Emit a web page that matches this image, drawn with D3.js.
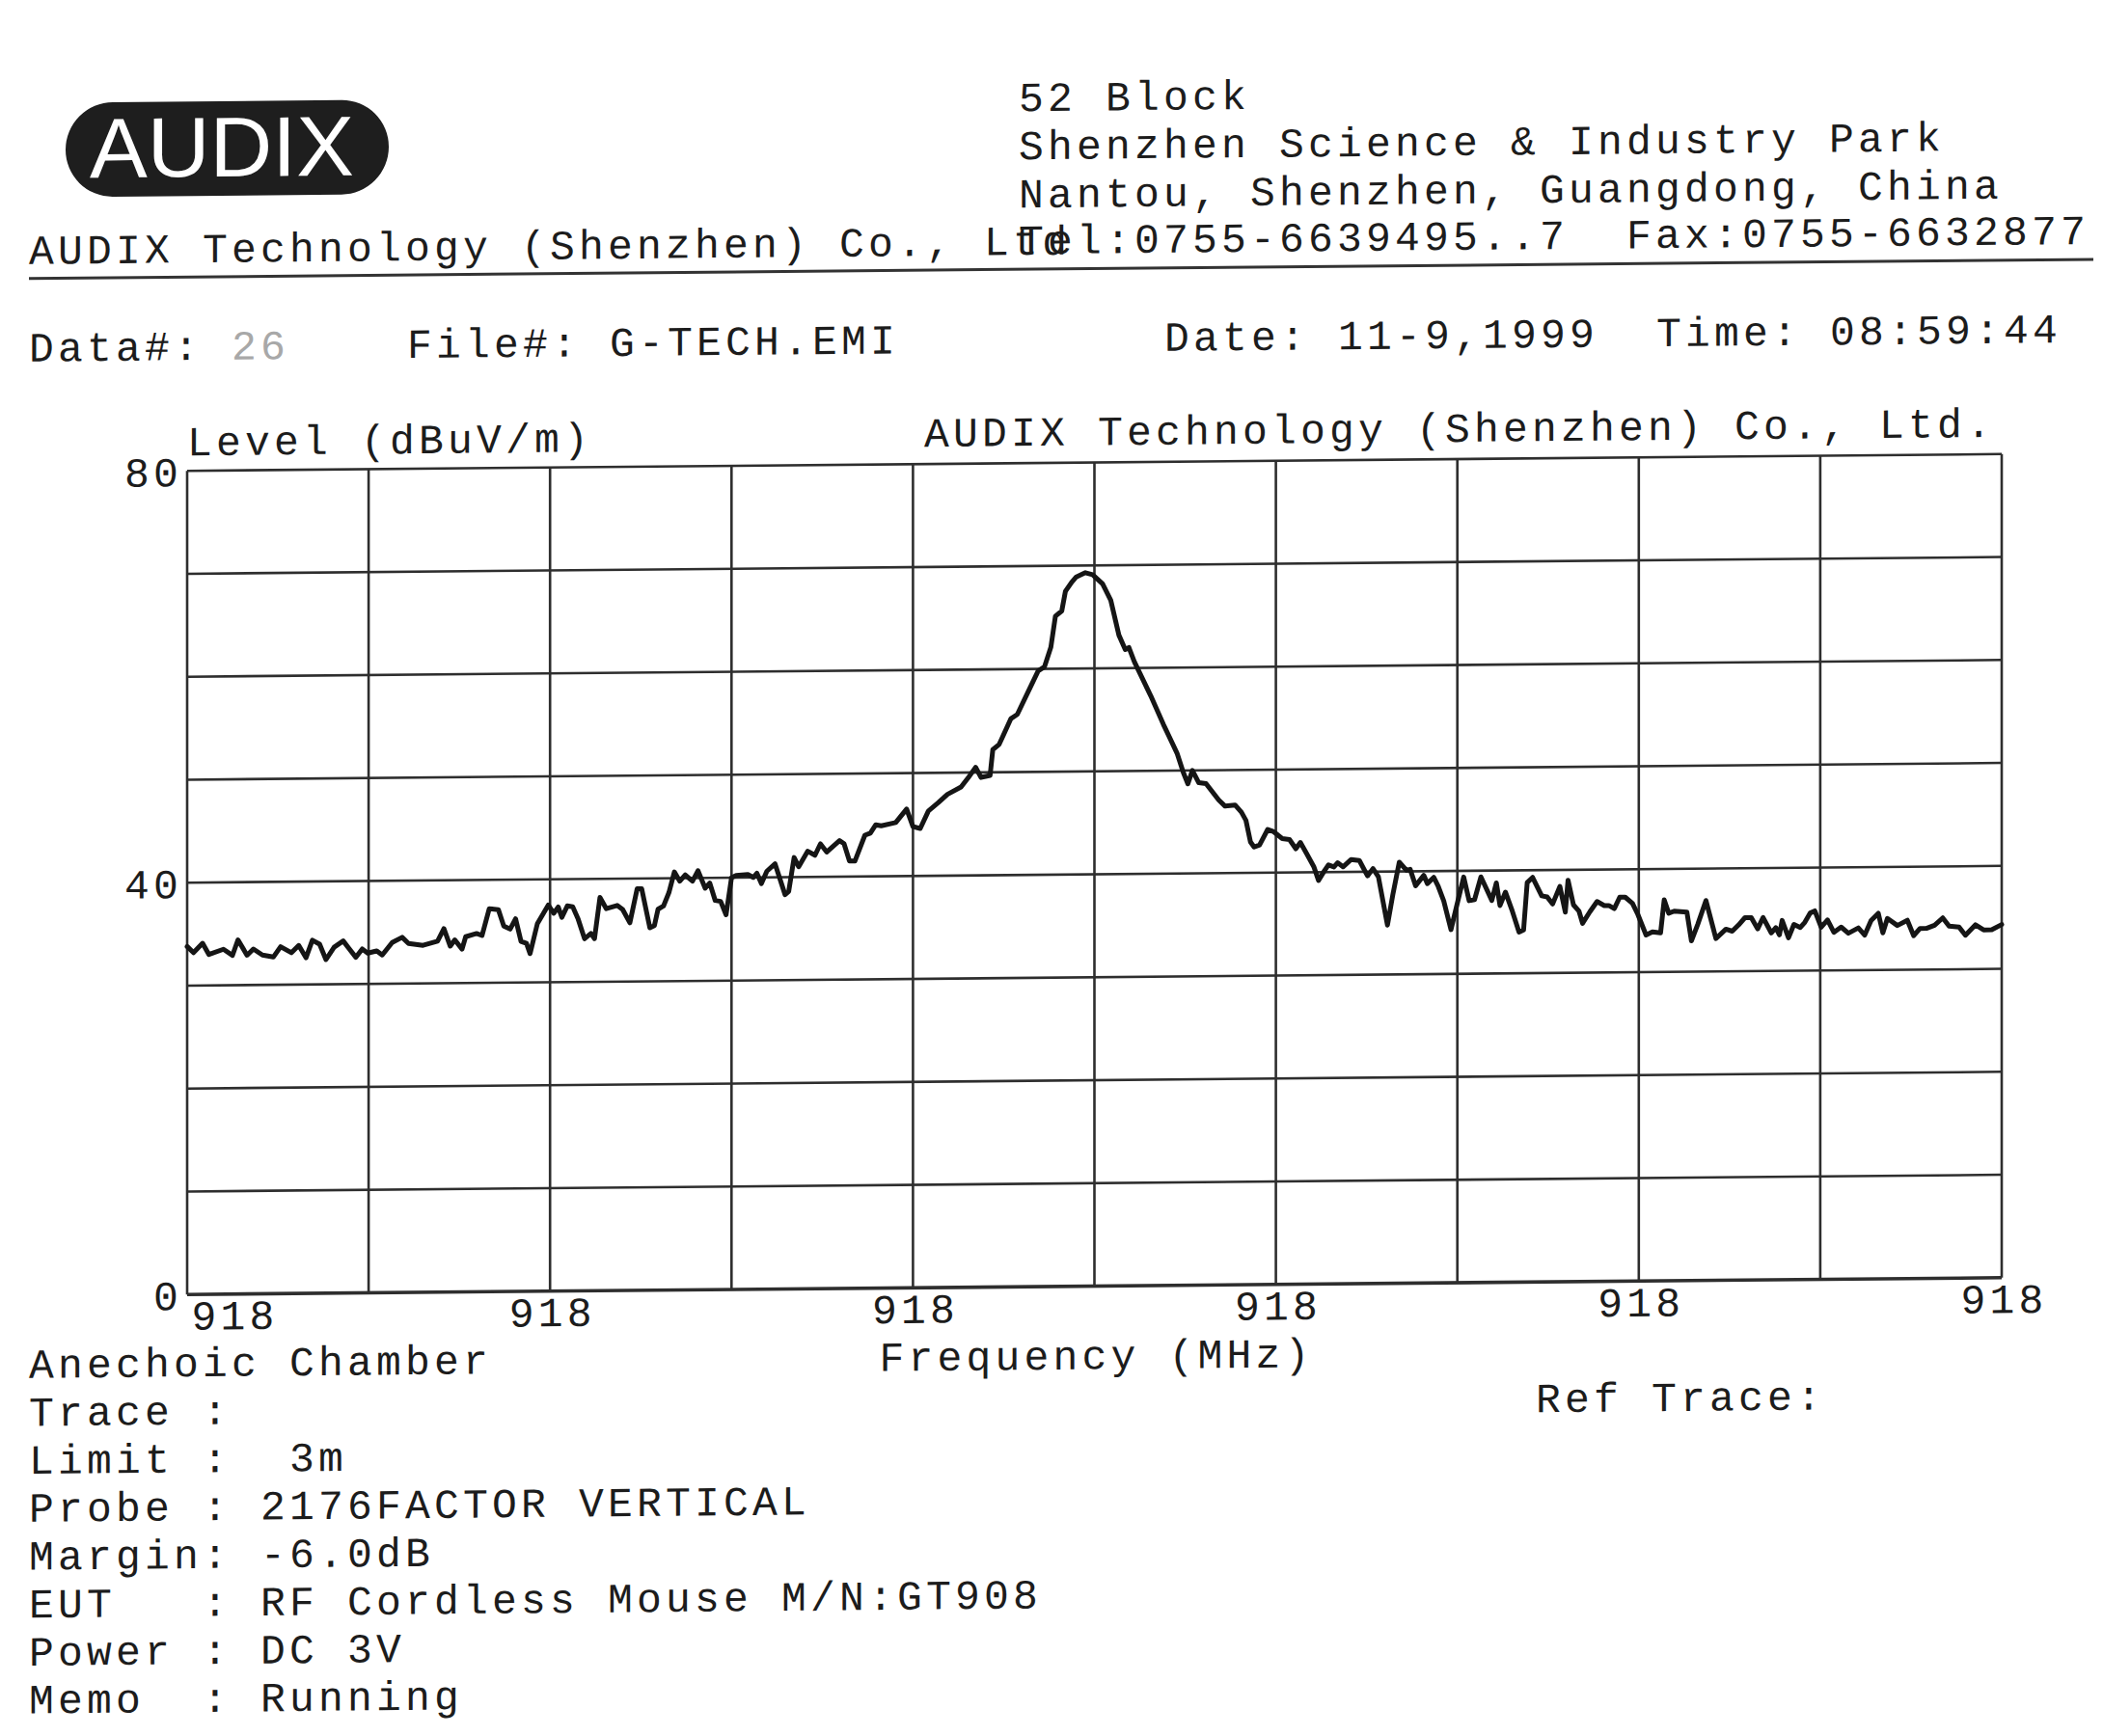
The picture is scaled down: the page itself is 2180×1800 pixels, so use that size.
<!DOCTYPE html>
<html><head><meta charset="utf-8">
<script src="https://cdn.jsdelivr.net/npm/d3@7"></script>
<style>
html,body{margin:0;padding:0;background:#fff;}
text{white-space:pre;}
</style></head>
<body>
<script>
// ---------- data ----------
const freqMHz = [
917.9000,917.9007,917.9017,917.9024,917.9040,917.9050,917.9056,917.9066,917.9073,917.9083,
917.9095,917.9103,917.9115,917.9123,917.9131,917.9138,917.9146,917.9153,917.9162,917.9172,
917.9178,917.9186,917.9193,917.9199,917.9209,917.9215,917.9226,917.9237,917.9244,917.9260,
917.9276,917.9283,917.9290,917.9295,917.9303,917.9307,917.9319,917.9325,917.9333,917.9343,
917.9349,917.9356,917.9362,917.9368,917.9374,917.9378,917.9386,917.9398,917.9404,917.9409,
917.9413,917.9419,917.9425,917.9431,917.9438,917.9445,917.9449,917.9455,917.9462,917.9474,
917.9480,917.9488,917.9496,917.9501,917.9510,917.9515,917.9519,917.9525,917.9531,917.9537,
917.9543,917.9549,917.9557,917.9563,917.9571,917.9576,917.9582,917.9588,917.9594,
917.9600,917.9605,917.9618,917.9624,917.9628,917.9633,917.9639,917.9648,917.9659,917.9663,
917.9669,917.9674,917.9684,917.9692,917.9698,917.9705,917.9719,917.9724,917.9730,917.9736,
917.9747,917.9753,917.9759,917.9765,917.9781,917.9793,
917.9800,917.9808,917.9817,917.9828,917.9838,917.9853,917.9861,917.9869,917.9875,917.9885,
917.9888,917.9895,917.9908,917.9915,917.9927,917.9938,917.9945,917.9952,917.9957,917.9964,
917.9968,917.9975,917.9980,917.9990,917.9998,918.0009,918.0018,918.0027,918.0034,918.0038,
918.0044,918.0062,918.0076,918.0091,918.0098,918.0103,918.0108,918.0115,918.0123,918.0137,
918.0144,918.0155,918.0162,918.0167,918.0172,
918.0176,918.0182,918.0191,918.0197,918.0207,918.0215,918.0222,918.0227,918.0234,918.0242,
918.0247,918.0254,918.0258,918.0264,918.0268,918.0274,918.0283,918.0292,918.0301,918.0307,
918.0313,918.0323,918.0329,918.0336,918.0344,918.0348,918.0354,918.0363,918.0367,918.0374,
918.0379,918.0385,918.0393,918.0399,918.0407,918.0413,918.0419,918.0426,918.0438,918.0443,
918.0447,918.0453,918.0460,918.0468,918.0473,918.0477,918.0483,918.0493,918.0499,918.0505,
918.0513,918.0519,918.0522,918.0528,918.0534,918.0538,918.0546,918.0554,918.0562,918.0567,
918.0573,918.0579,918.0585,918.0593,918.0599,
918.0608,918.0615,918.0624,918.0628,918.0633,918.0639,918.0653,918.0658,918.0665,918.0674,
918.0685,918.0696,918.0703,918.0710,918.0717,918.0724,918.0731,918.0737,918.0746,918.0751,
918.0755,918.0758,918.0765,918.0771,918.0778,918.0783,918.0789,918.0794,918.0801,918.0808,
918.0815,918.0823,918.0831,918.0842,918.0849,918.0856,918.0864,918.0869,918.0874,918.0885,
918.0896,918.0903,918.0910,918.0917,918.0926,918.0935,918.0942,918.0953,918.0960,918.0971,
918.0980,918.0989,918.1000
];
const levelDbuV = [
33.8,33.2,34.1,33.0,33.5,32.9,34.4,32.9,33.5,32.9,
32.7,33.7,33.1,33.8,32.6,34.3,33.9,32.4,33.6,34.2,
33.5,32.6,33.4,33.0,33.2,32.8,34.0,34.5,33.9,33.7,
34.1,35.3,33.6,34.2,33.3,34.5,34.8,34.6,37.2,37.1,
35.5,35.2,36.2,34.0,33.8,32.8,35.7,37.5,36.7,37.3,
36.3,37.4,37.3,36.1,34.2,34.7,34.2,38.2,37.1,37.4,
37.0,35.7,39.0,39.0,35.2,35.4,37.0,37.3,38.6,40.6,
39.7,40.3,39.7,40.7,39.0,39.5,37.8,37.7,36.4,
40.0,40.2,40.3,40.0,40.4,39.4,40.6,41.3,38.3,38.6,
41.9,41.0,42.5,42.1,43.2,42.4,43.5,43.2,41.5,41.5,
44.0,44.2,45.0,44.9,45.2,46.5,
44.8,44.6,46.3,47.1,47.9,48.6,49.5,50.5,49.5,49.7,
52.2,52.7,55.2,55.6,57.8,59.8,60.2,62.1,65.1,65.6,
67.5,68.4,68.9,69.3,69.1,68.2,66.6,63.2,61.8,62.0,
60.6,57.3,54.5,51.7,49.8,48.7,50.0,48.8,48.7,47.1,
46.5,46.6,45.9,45.1,43.0,
42.5,42.7,44.2,44.0,43.3,43.2,42.3,42.9,41.8,40.5,
39.2,40.2,40.7,40.5,40.9,40.5,41.2,41.1,39.6,40.3,
39.5,34.8,37.8,40.9,40.1,40.2,38.6,39.6,38.8,39.4,
38.5,37.1,34.3,36.5,39.4,37.1,37.2,39.4,37.1,38.8,
36.6,37.9,36.2,34.0,34.2,38.8,39.3,37.5,37.4,36.7,
38.4,35.9,39.0,36.6,36.0,34.8,35.9,36.9,36.5,36.5,
36.2,37.3,37.3,36.7,35.6,
33.6,33.9,33.8,37.0,35.7,35.9,35.8,33.0,34.6,36.9,
33.2,34.1,33.9,34.5,35.2,35.2,34.1,35.2,33.7,34.2,
33.5,34.9,33.2,34.5,34.2,34.7,35.6,35.8,34.2,34.9,
33.7,34.2,33.6,34.1,33.4,34.8,35.5,33.6,35.0,34.3,
34.8,33.3,34.0,34.0,34.3,35.0,34.2,34.1,33.3,34.3,
33.8,33.8,34.3
];
const xDomainMHz = [917.9, 918.1];
const xGridMHz = [917.90,917.92,917.94,917.96,917.98,918.00,918.02,918.04,918.06,918.08,918.10];
const xLabelMHz = [917.90,917.94,917.98,918.02,918.06,918.10];
const yDomain = [0, 80];
const yGrid = [0,10,20,30,40,50,60,70,80];
const yLabels = [0,40,80];

const headerAddress = ["52 Block","Shenzhen Science & Industry Park","Nantou, Shenzhen, Guangdong, China"];
const companyLine = "AUDIX Technology (Shenzhen) Co., Ltd";
const telLine = "Tel:0755-6639495..7  Fax:0755-6632877";
const plotTitle = "AUDIX Technology (Shenzhen) Co., Ltd.";
const yTitle = "Level (dBuV/m)";
const xTitle = "Frequency (MHz)";
const infoLines = ["Anechoic Chamber","Trace :","Limit :  3m","Probe : 2176FACTOR VERTICAL",
  "Margin: -6.0dB","EUT   : RF Cordless Mouse M/N:GT908","Power : DC 3V","Memo  : Running"];

// ---------- drawing ----------
(function draw() {
const W = 2180, H = 1800;
const FONT = "'Liberation Mono','Courier New',monospace";
const FS = 43, LS = 4.2;          // 0.6*43 + 4.2 = 30 px per character, like the print
const INK = "#1c1c1c";
const svg = d3.select("body").append("svg").attr("width", W).attr("height", H)
  .attr("viewBox", `0 0 ${W} ${H}`);
svg.append("rect").attr("width", W).attr("height", H).attr("fill", "#fff");
const page = svg.append("g").attr("transform", "skewY(-0.53)")
  .attr("font-family", FONT).attr("font-size", FS).attr("letter-spacing", LS).attr("fill", INK);

// logo
const logo = page.append("g");
logo.append("rect").attr("x", 68).attr("y", 107).attr("width", 335).attr("height", 98)
  .attr("rx", 49).attr("ry", 49).attr("fill", "#1e1e1e");
logo.append("text").attr("x", 93).attr("y", 185).text("AUDIX")
  .attr("font-family", "'Liberation Sans','DejaVu Sans',sans-serif").attr("font-size", 88)
  .attr("letter-spacing", 0)
  .attr("fill", "#fff").attr("textLength", 274).attr("lengthAdjust", "spacingAndGlyphs");

// header
page.selectAll("text.addr").data(headerAddress).join("text").attr("class", "addr")
  .attr("x", 1056).attr("y", (d, i) => 125 + i * 50).text(d => d);
page.append("text").attr("x", 30).attr("y", 274).text(companyLine);
page.append("text").attr("x", 1056).attr("y", 273).text(telLine);
page.append("line").attr("x1", 30).attr("x2", 2170).attr("y1", 289).attr("y2", 289)
  .attr("stroke", "#333").attr("stroke-width", 3);

const dataRow = page.append("text").attr("y", 375);
dataRow.append("tspan").attr("x", 30).text("Data#:");
dataRow.append("tspan").attr("x", 240).attr("fill", "#a8a8a8").text("26");
dataRow.append("tspan").attr("x", 422).text("File#: G-TECH.EMI");
dataRow.append("tspan").attr("x", 1207).text("Date: 11-9,1999  Time: 08:59:44");

// plot
const pLeft = 194, pRight = 2075, pTop = 490, pBottom = 1344;
const x = d3.scaleLinear().domain(xDomainMHz).range([pLeft, pRight]);
const y = d3.scaleLinear().domain(yDomain).range([pBottom, pTop]);

const grid = page.append("g").attr("stroke", "#2e2e2e").attr("stroke-width", 2.6);
grid.selectAll("line.v").data(xGridMHz).join("line").attr("class", "v")
  .attr("x1", d => x(d)).attr("x2", d => x(d)).attr("y1", pTop).attr("y2", pBottom);
grid.selectAll("line.h").data(yGrid).join("line").attr("class", "h")
  .attr("x1", pLeft).attr("x2", pRight).attr("y1", d => y(d)).attr("y2", d => y(d))
  .attr("stroke-width", d => d === 0 ? 3.6 : 2.6);

const yAxis = page.append("g").attr("transform", `translate(${pLeft},0)`)
  .call(d3.axisLeft(y).tickValues(yLabels).tickSize(0).tickPadding(5).tickFormat(d3.format("d")));
yAxis.select(".domain").remove();
yAxis.selectAll("text").attr("font-family", FONT).attr("font-size", FS).attr("fill", INK).attr("dy", "0.36em");

const xAxis = page.append("g").attr("transform", `translate(0,${pBottom})`)
  .call(d3.axisBottom(x).tickValues(xLabelMHz).tickSize(0).tickPadding(6).tickFormat(d3.format(".0f")));
xAxis.select(".domain").remove();
xAxis.selectAll("text").attr("font-family", FONT).attr("font-size", FS).attr("fill", INK)
  .attr("text-anchor", (d, i) => i === 0 ? "start" : "middle")
  .attr("dx", (d, i) => i === 0 ? 4 : 2);

page.append("text").attr("x", pLeft).attr("y", 474).text(yTitle);
page.append("text").attr("x", 958).attr("y", 472).text(plotTitle);
page.append("text").attr("x", (pLeft + pRight) / 2 + 2).attr("y", 1430).attr("text-anchor", "middle").text(xTitle);

const pts = freqMHz.map((f, i) => [f, levelDbuV[i]]);
page.append("path").datum(pts)
  .attr("d", d3.line().x(d => x(d[0])).y(d => y(d[1])))
  .attr("fill", "none").attr("stroke", "#151515").attr("stroke-width", 5)
  .attr("stroke-linejoin", "round").attr("stroke-linecap", "round");

// info block
page.selectAll("text.info").data(infoLines).join("text").attr("class", "info")
  .attr("x", 30).attr("y", (d, i) => 1429 + i * 49.7).text(d => d);
page.append("text").attr("x", 1592).attr("y", 1479).text("Ref Trace:");
})();
</script>
</body></html>
